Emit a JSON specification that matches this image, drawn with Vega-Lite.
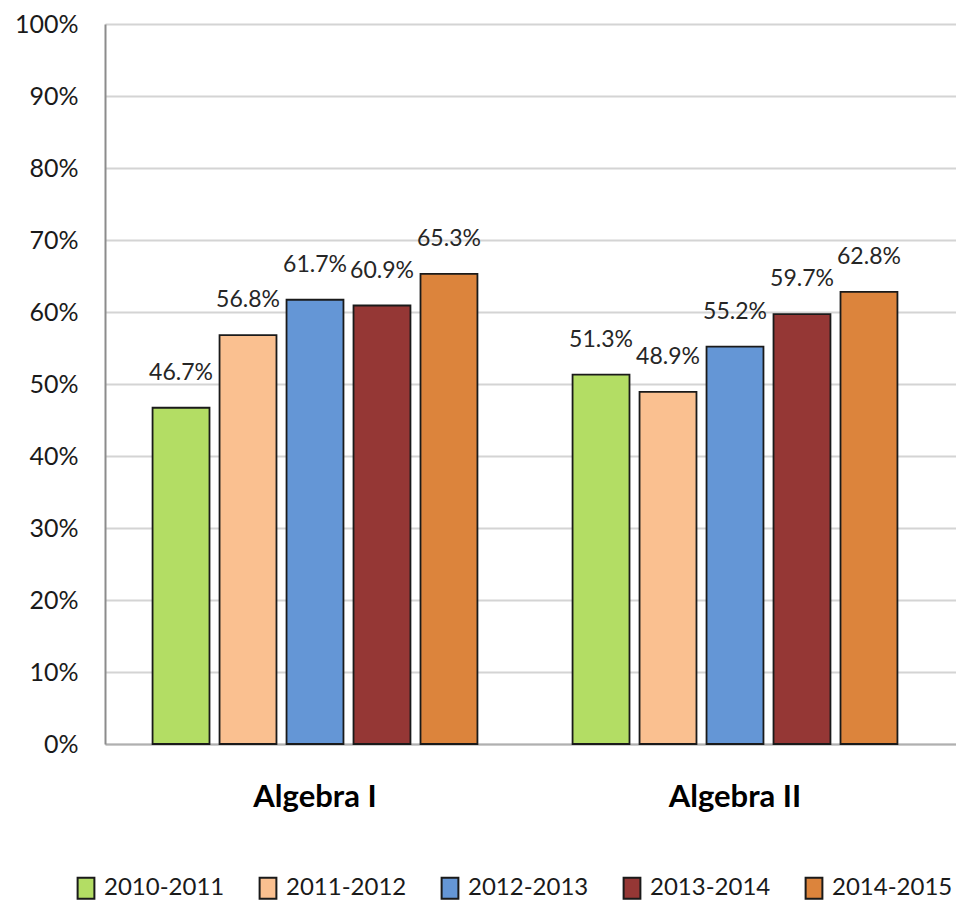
{
  "$schema": "https://vega.github.io/schema/vega-lite/v6.json",
  "width": 851,
  "height": 720,
  "autosize": {"type": "none"},
  "padding": {"left": 105, "top": 24, "right": 0, "bottom": 162},
  "background": "white",
  "config": {
    "font": "Lato",
    "view": {"stroke": null}
  },
  "data": {
    "values": [
      {"subject": "Algebra I", "year": "2010-2011", "value": 0.467},
      {"subject": "Algebra I", "year": "2011-2012", "value": 0.568},
      {"subject": "Algebra I", "year": "2012-2013", "value": 0.617},
      {"subject": "Algebra I", "year": "2013-2014", "value": 0.609},
      {"subject": "Algebra I", "year": "2014-2015", "value": 0.653},
      {"subject": "Algebra II", "year": "2010-2011", "value": 0.513},
      {"subject": "Algebra II", "year": "2011-2012", "value": 0.489},
      {"subject": "Algebra II", "year": "2012-2013", "value": 0.552},
      {"subject": "Algebra II", "year": "2013-2014", "value": 0.597},
      {"subject": "Algebra II", "year": "2014-2015", "value": 0.628}
    ]
  },
  "encoding": {
    "x": {
      "field": "subject",
      "type": "nominal",
      "sort": ["Algebra I", "Algebra II"],
      "scale": {"paddingInner": 0, "paddingOuter": 0.0131, "align": 0},
      "axis": {
        "title": null,
        "labelAngle": 0,
        "labelFontSize": 31,
        "labelFontWeight": "bold",
        "labelColor": "#000000",
        "labelPadding": 38,
        "ticks": false,
        "domainColor": "#b0b0b0",
        "domainWidth": 2
      }
    },
    "xOffset": {
      "field": "year",
      "type": "nominal",
      "scale": {"paddingInner": 0.15, "paddingOuter": 0.71}
    },
    "y": {
      "field": "value",
      "type": "quantitative",
      "scale": {"domain": [0, 1], "nice": false},
      "axis": {
        "title": null,
        "values": [0, 0.1, 0.2, 0.3, 0.4, 0.5, 0.6, 0.7, 0.8, 0.9, 1],
        "format": ".0%",
        "labelFontSize": 25,
        "labelColor": "#1a1a1a",
        "labelPadding": 27,
        "ticks": false,
        "domainColor": "#8c8c8c",
        "domainWidth": 2,
        "gridColor": "#d4d4d4",
        "gridWidth": 2
      }
    }
  },
  "layer": [
    {
      "mark": {"type": "bar", "stroke": "#1a1a1a", "strokeWidth": 1.8},
      "encoding": {
        "color": {
          "field": "year",
          "type": "nominal",
          "scale": {
            "domain": ["2010-2011", "2011-2012", "2012-2013", "2013-2014", "2014-2015"],
            "range": ["#b3dd64", "#fac090", "#6496d6", "#953735", "#dc843c"]
          },
          "legend": {
            "title": null,
            "orient": "none",
            "legendX": -31,
            "legendY": 852,
            "direction": "horizontal",
            "columns": 5,
            "columnPadding": 30,
            "labelFontSize": 24,
            "labelColor": "#1a1a1a",
            "labelOffset": 6,
            "labelLimit": 200,
            "symbolType": "M-0.8,-1H0.8V1H-0.8Z",
            "symbolSize": 440,
            "symbolStrokeColor": "#1a1a1a",
            "symbolStrokeWidth": 2
          }
        }
      }
    },
    {
      "mark": {"type": "text", "baseline": "bottom", "dy": -23, "fontSize": 23, "color": "#262626"},
      "encoding": {
        "text": {"field": "value", "type": "quantitative", "format": ".1%"}
      }
    }
  ]
}
